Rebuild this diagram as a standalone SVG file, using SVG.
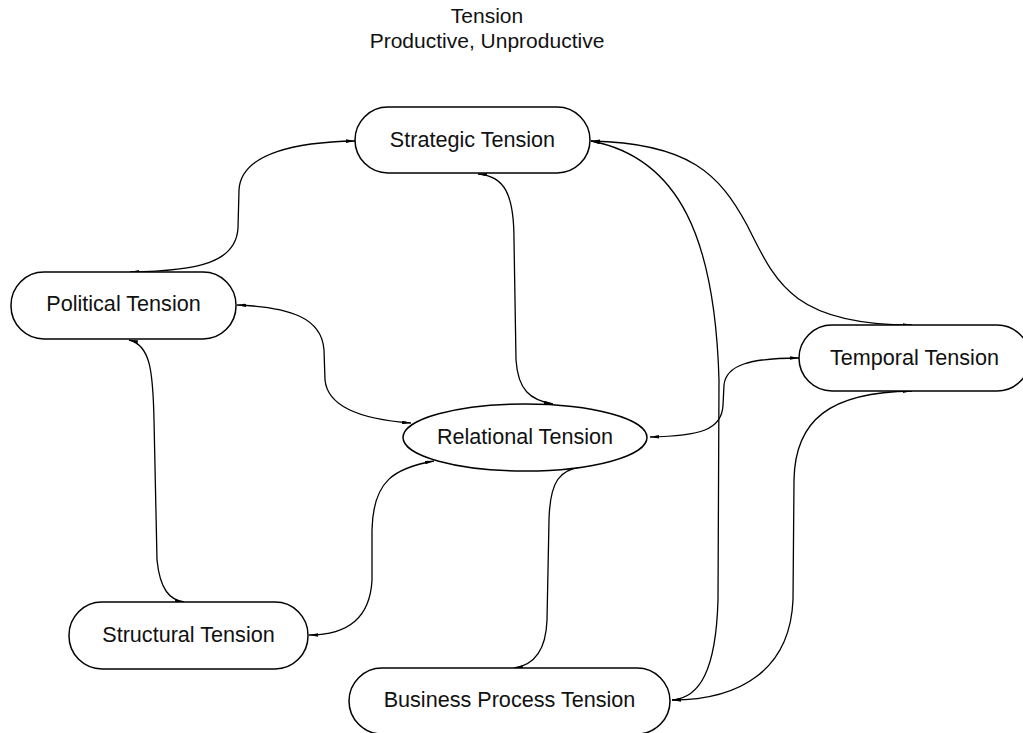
<svg xmlns="http://www.w3.org/2000/svg" width="1023" height="733" viewBox="0 0 1023 733">
<style>
.node{fill:#fff;stroke:#000;stroke-width:1.5}
.lbl{font-family:"Liberation Sans",Arial,sans-serif;font-size:21.6px;fill:#111;text-anchor:middle}
.ttl{font-family:"Liberation Sans",Arial,sans-serif;font-size:21px;fill:#111;text-anchor:middle}
.edge{fill:none;stroke:#000;stroke-width:1.3}
</style>
<defs>
<marker id="ah" viewBox="0 0 10 4" refX="10" refY="2" markerWidth="9" markerHeight="3.6" markerUnits="userSpaceOnUse" orient="auto-start-reverse">
<path d="M0,0 L10,2 L0,4 Z" fill="#000"/>
</marker>
</defs>
<rect width="1023" height="733" fill="#fff"/>
<g id="title">
<text class="ttl" x="487" y="23">Tension</text>
<text class="ttl" x="487" y="48">Productive, Unproductive</text>
</g>
<g id="connectors">
<path class="edge" marker-start="url(#ah)" marker-end="url(#ah)" d="M130,272 C 200,271 236,262 238,228 L239,190 C 241,152 300,142 355,141"/>
<path class="edge" marker-start="url(#ah)" marker-end="url(#ah)" d="M237,305 C 290,307 322,318 324,350 L325,380 C 328,410 370,420 411,423"/>
<path class="edge" marker-start="url(#ah)" marker-end="url(#ah)" d="M129,340 C 150,345 153,370 154,420 L157,560 C 160,590 170,600 184,602"/>
<path class="edge" marker-start="url(#ah)" marker-end="url(#ah)" d="M478,174 C 505,176 514,195 514,240 L516,360 C 518,390 530,400 553,404"/>
<path class="edge" marker-start="url(#ah)" marker-end="url(#ah)" d="M591,141 C 690,143 720,175 747,225 C 775,280 790,325 912,325"/>
<path class="edge" marker-start="url(#ah)" marker-end="url(#ah)" d="M591,141 C 680,158 715,240 719,380 L718,600 C 716,670 700,698 672,700"/>
<path class="edge" marker-start="url(#ah)" marker-end="url(#ah)" d="M650,437 C 700,436 722,430 723,405 L724,385 C 726,365 750,358 799,358"/>
<path class="edge" marker-start="url(#ah)" marker-end="url(#ah)" d="M434,461 C 395,468 373,480 372,530 L372,580 C 370,620 345,635 309,635"/>
<path class="edge" marker-start="url(#ah)" marker-end="url(#ah)" d="M583,466 C 560,470 550,480 549,520 L547,620 C 546,650 535,665 514,668"/>
<path class="edge" marker-start="url(#ah)" marker-end="url(#ah)" d="M912,391 C 830,392 795,420 794,480 L793,600 C 790,670 740,700 672,700"/>
</g>
<g id="strategic">
<rect class="node" x="355" y="107" width="235" height="66" rx="33" ry="33"/>
<text class="lbl" x="472.5" y="147">Strategic Tension</text>
</g>
<g id="political">
<rect class="node" x="11" y="272" width="225" height="67" rx="33" ry="33"/>
<text class="lbl" x="123.5" y="311">Political Tension</text>
</g>
<g id="temporal">
<rect class="node" x="799" y="325" width="231" height="66" rx="33" ry="33"/>
<text class="lbl" x="914.5" y="365">Temporal Tension</text>
</g>
<g id="relational">
<ellipse class="node" cx="525" cy="437.5" rx="122" ry="33.5"/>
<text class="lbl" x="525" y="444">Relational Tension</text>
</g>
<g id="structural">
<rect class="node" x="69" y="602" width="239" height="67" rx="33" ry="33"/>
<text class="lbl" x="188.5" y="642">Structural Tension</text>
</g>
<g id="business">
<rect class="node" x="349" y="668" width="321" height="66" rx="33" ry="33"/>
<text class="lbl" x="509.5" y="707">Business Process Tension</text>
</g>
</svg>
